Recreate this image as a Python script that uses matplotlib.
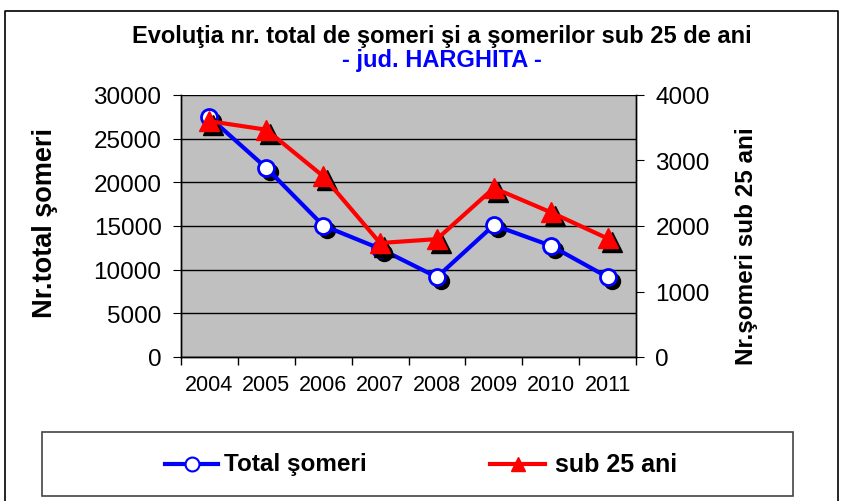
import matplotlib
matplotlib.use("Agg")
import matplotlib.pyplot as plt
from matplotlib import transforms
from matplotlib.lines import Line2D
from matplotlib.patches import Rectangle

# date
ani = ["2004", "2005", "2006", "2007", "2008", "2009", "2010", "2011"]
total_someri = [27450, 21650, 15050, 12400, 9150, 15100, 12750, 9150]
sub_25 = [3600, 3470, 2760, 1740, 1800, 2580, 2210, 1810]

plt.rcParams["font.family"] = ["Liberation Sans", "DejaVu Sans"]

fig = plt.figure(figsize=(8.43, 5.02), dpi=100)
ax = fig.add_axes([181 / 843, 1 - 358 / 502, 455 / 843, 262 / 502])
ax2 = ax.twinx()

ax.set_facecolor("#c0c0c0")
x = list(range(len(ani)))

# umbre negre sub markere
sh = transforms.offset_copy(ax.transData, fig=fig, x=4, y=-4, units="dots")
sh2 = transforms.offset_copy(ax2.transData, fig=fig, x=4, y=-4, units="dots")
ax.plot(x, total_someri, ls="none", marker="o", ms=11.5, color="black",
        transform=sh, zorder=3)
ax.plot(x, total_someri, color="#0000ff", lw=3, marker="o", ms=11.5,
        mfc="white", mec="#0000ff", mew=2, zorder=4)
ax2.plot(x, sub_25, ls="none", marker="^", ms=15, color="black",
         transform=sh2, zorder=3)
ax2.plot(x, sub_25, color="#ff0000", lw=3, marker="^", ms=15,
         mfc="#ff0000", mec="#ff0000", zorder=4)

ax.set_xlim(-0.5, len(ani) - 0.5)
ax.set_ylim(0, 30000)
ax2.set_ylim(0, 4000)
ax.set_yticks(range(0, 30001, 5000))
ax2.set_yticks(range(0, 4001, 1000))
ax.yaxis.grid(True, color="black", lw=1)
ax.set_axisbelow(True)

ax.set_xticks(x)
ax.set_xticklabels(ani, fontsize=15.5)
ax.set_xticks([i - 0.5 for i in range(len(ani) + 1)], minor=True)
ax.tick_params(axis="x", which="major", length=0, pad=12)
ax.tick_params(axis="x", which="minor", length=6, width=1, direction="out")
ax.tick_params(axis="y", labelsize=17.5, length=6, direction="out", pad=8)
ax2.tick_params(axis="y", labelsize=17.5, length=6, direction="out", pad=8)

for a in (ax, ax2):
    for s in a.spines.values():
        s.set_linewidth(1)
    a.spines["top"].set_visible(False)
ax.patch.set_zorder(0)
ax2.set_zorder(ax.get_zorder() + 1)
ax2.patch.set_visible(False)

ax.set_ylabel("Nr.total şomeri", fontsize=19.5, fontweight="bold")
ax.yaxis.set_label_coords(-0.27, 0.515)
ax2.set_ylabel("Nr.şomeri sub 25 ani", fontsize=17.5, fontweight="bold")
ax2.yaxis.set_label_coords(1.218, 0.426)

fig.text(0.524, 1 - 37 / 502, "Evoluţia nr. total de şomeri şi a şomerilor sub 25 de ani",
         ha="center", va="center", fontsize=17, fontweight="bold")
fig.text(0.524, 1 - 61 / 502, "- jud. HARGHITA -", ha="center", va="center",
         fontsize=17, fontweight="bold", color="#0000ff")

# chenar exterior
fig.add_artist(Line2D([5 / 843, 5 / 843, 838 / 843, 838 / 843],
                      [0, 1 - 12 / 502, 1 - 12 / 502, 0],
                      color="black", lw=1.2, transform=fig.transFigure))

# legenda
fig.add_artist(Rectangle((42 / 843, 1 - 497 / 502), 751 / 843, 64 / 502,
                         transform=fig.transFigure, fill=False,
                         ec="#444444", lw=1.2))
ly = 1 - 465 / 502
fig.add_artist(Line2D([165 / 843, 218 / 843], [ly, ly], color="#0000ff", lw=3,
                      transform=fig.transFigure))
fig.add_artist(Line2D([191.5 / 843], [ly], marker="o", ms=10, mfc="white",
                      mec="#0000ff", mew=1.5, transform=fig.transFigure))
fig.text(224 / 843, ly, "Total şomeri", fontsize=17.5, fontweight="bold", va="center")
fig.add_artist(Line2D([490 / 843, 545 / 843], [ly, ly], color="#ff0000", lw=3,
                      transform=fig.transFigure))
fig.add_artist(Line2D([517.5 / 843], [ly], marker="^", ms=10, color="#ff0000",
                      transform=fig.transFigure))
fig.text(555 / 843, ly, "sub 25 ani", fontsize=18, fontweight="bold", va="center")

fig.savefig("out.png", dpi=100)
